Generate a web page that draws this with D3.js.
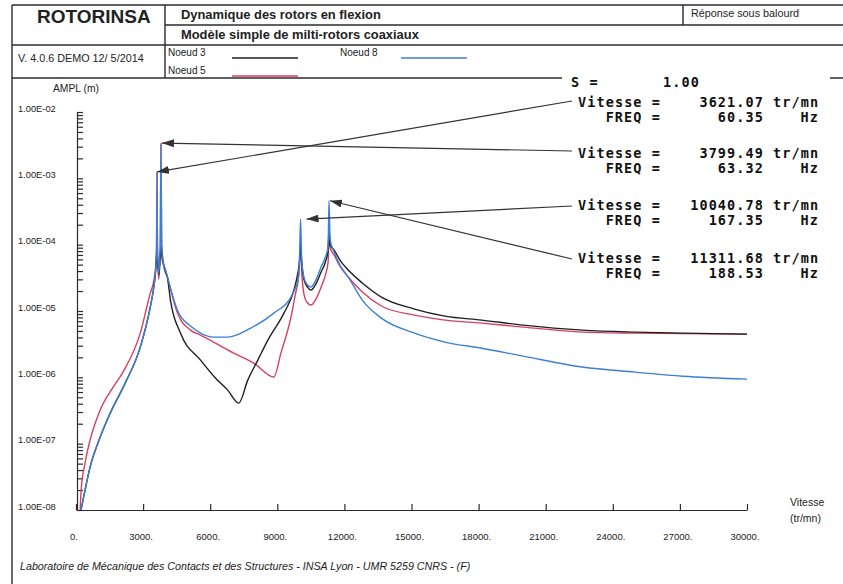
<!DOCTYPE html>
<html>
<head>
<meta charset="utf-8">
<script src="https://cdn.jsdelivr.net/npm/d3@7"></script>
<style>
  html, body { margin: 0; padding: 0; background: #fff; }
  svg { display: block; }
  .sans { font-family: "Liberation Sans", Arial, sans-serif; fill: #222; }
  .mono { font-family: "DejaVu Sans Mono", monospace; font-weight: bold; fill: #111; }
</style>
</head>
<body>
<svg id="chart" width="843" height="584"></svg>
<script>
// Axis ticks and labels
const speedTicks = [0, 3000, 6000, 9000, 12000, 15000, 18000, 21000, 24000, 27000, 30000];
const speedTickLabels = ["0.", "3000.", "6000.", "9000.", "12000.", "15000.", "18000.", "21000.", "24000.", "27000.", "30000."];
const ampDecades = [1e-8, 1e-7, 1e-6, 1e-5, 1e-4, 1e-3, 1e-2];
const ampDecadeLabels = ["1.00E-08", "1.00E-07", "1.00E-06", "1.00E-05", "1.00E-04", "1.00E-03", "1.00E-02"];

// Noeud 3 (black): speed in tr/mn, amplitude in m
const node3Speed = [225, 404, 629, 1078, 1527, 2200, 2874, 3323, 3458, 3560, 3600, 3621.07, 3645, 3700, 3760, 3799.49, 3830, 3900, 4000, 4087, 4222, 4671, 5569, 6242, 6781, 7275, 7680, 8129, 8578, 9296, 9745, 9900, 9990, 10040.78, 10090, 10200, 10350, 10509, 10700, 10958, 11150, 11272, 11311.68, 11350, 11542, 11800, 12171, 12800, 13653, 15134, 16500, 18144, 20000, 22635, 25000, 27126, 30000];
const node3Amp = [1.0e-8, 1.99e-8, 4.42e-8, 1.25e-7, 2.88e-7, 8.18e-7, 2.85e-6, 1.15e-5, 2.07e-5, 4.0e-5, 6.5e-5, 9.0e-5, 6.0e-5, 3.5e-5, 6.0e-5, 9.5e-5, 7.0e-5, 5.2e-5, 3.8e-5, 3.2e-5, 1.46e-5, 4.64e-6, 1.82e-6, 9.72e-7, 6.41e-7, 4.08e-7, 9.08e-7, 1.82e-6, 3.64e-6, 9.30e-6, 2.07e-5, 3.48e-5, 5.5e-5, 1.05e-4, 5.5e-5, 2.92e-5, 2.29e-5, 2.07e-5, 2.46e-5, 3.86e-5, 5.47e-5, 8.3e-5, 1.66e-4, 1.0e-4, 8.3e-5, 5.86e-5, 4.14e-5, 2.64e-5, 1.62e-5, 1.07e-5, 8.38e-6, 7.29e-6, 6.12e-6, 5.15e-6, 4.81e-6, 4.64e-6, 4.48e-6];

// Noeud 5 (red)
const node5Speed = [180, 230, 404, 629, 1078, 1662, 2100, 2874, 3323, 3458, 3560, 3600, 3621.07, 3640, 3700, 3765, 3799.49, 3830, 3900, 4000, 4087, 4536, 5120, 5569, 7051, 7949, 8847, 9162, 9611, 9800, 9970, 10040.78, 10100, 10200, 10350, 10509, 10700, 10958, 11150, 11272, 11311.68, 11360, 11542, 11800, 12171, 12800, 13653, 15134, 16500, 18144, 20000, 22635, 25000, 27126, 30000];
const node5Amp = [9.0e-9, 2.0e-8, 5.08e-8, 1.13e-7, 3.2e-7, 7.11e-7, 1.2e-6, 4.64e-6, 1.86e-5, 2.64e-5, 4.5e-5, 9.0e-5, 1.25e-3, 9.0e-5, 3.0e-5, 9.0e-5, 3.4e-3, 1.0e-4, 5.5e-5, 4.2e-5, 3.25e-5, 9.30e-6, 5.15e-6, 4.33e-6, 2.32e-6, 1.64e-6, 1.01e-6, 2.32e-6, 8.09e-6, 1.74e-5, 3.73e-5, 9.9e-5, 3.5e-5, 1.74e-5, 1.32e-5, 1.23e-5, 1.46e-5, 2.29e-5, 3.48e-5, 5.47e-5, 1.84e-4, 9.0e-5, 6.97e-5, 4.75e-5, 3.25e-5, 1.93e-5, 1.19e-5, 8.67e-6, 7.29e-6, 6.57e-6, 5.72e-6, 4.81e-6, 4.64e-6, 4.56e-6, 4.48e-6];

// Noeud 8 (blue)
const node8Speed = [225, 404, 629, 1078, 1527, 2200, 2874, 3323, 3458, 3560, 3600, 3621.07, 3642, 3700, 3770, 3799.49, 3830, 3900, 4000, 4087, 4222, 4536, 5120, 5569, 6153, 6781, 7814, 8847, 9611, 9800, 9925, 9990, 10040.78, 10090, 10200, 10350, 10509, 10700, 10958, 11150, 11272, 11311.68, 11360, 11542, 11800, 12171, 12800, 13653, 15134, 16500, 18144, 20000, 22635, 25000, 27126, 30000];
const node8Amp = [1.0e-8, 1.99e-8, 4.42e-8, 1.25e-7, 2.88e-7, 8.18e-7, 2.85e-6, 1.15e-5, 2.07e-5, 4.14e-5, 8.0e-5, 1.2e-3, 1.0e-4, 3.7e-5, 1.0e-4, 3.2e-3, 1.0e-4, 5.47e-5, 4.1e-5, 3.25e-5, 2.21e-5, 1.03e-5, 5.92e-6, 4.64e-6, 4.04e-6, 4.04e-6, 5.52e-6, 9.30e-6, 1.62e-5, 2.21e-5, 2.92e-5, 6.0e-5, 2.43e-4, 6.0e-5, 3.13e-5, 2.46e-5, 2.29e-5, 2.82e-5, 4.59e-5, 6.5e-5, 9.2e-5, 4.59e-4, 1.2e-4, 7.73e-5, 4.92e-5, 3.25e-5, 1.46e-5, 7.8e-6, 4.64e-6, 3.40e-6, 2.75e-6, 2.09e-6, 1.43e-6, 1.20e-6, 1.04e-6, 9.4e-7];

// Critical speeds picked on the curves
const criticalSpeeds = [3621.07, 3799.49, 10040.78, 11311.68];
const criticalSpeedText = ["3621.07", "3799.49", "10040.78", "11311.68"];
const criticalFreqText = ["60.35", "63.32", "167.35", "188.53"];
const criticalAmp = [1.25e-3, 3.4e-3, 2.43e-4, 4.59e-4];
const scaleFactorText = "1.00";

const svg = d3.select("#chart");
const ink = "#2b2b2b";

const x = d3.scaleLinear().domain([0, 30000]).range([76, 747]);
const y = d3.scaleLog().domain([1e-8, 1e-2]).range([510, 112]);

// ---- Title block frame ----
const frame = svg.append("g").attr("stroke", ink).attr("stroke-width", 1.4).attr("fill", "none");
[[12, 5, 843, 5], [165, 25, 843, 25], [12, 45, 843, 45], [12, 78, 843, 78],
 [12, 5, 12, 584], [165, 5, 165, 78], [683, 5, 683, 25]].forEach(([x1, y1, x2, y2]) =>
  frame.append("line").attr("x1", x1).attr("y1", y1).attr("x2", x2).attr("y2", y2));

svg.append("text").attr("class", "sans").attr("x", 37).attr("y", 23)
  .attr("font-size", 19).attr("font-weight", "bold").text("ROTORINSA");
svg.append("text").attr("class", "sans").attr("x", 181).attr("y", 19)
  .attr("font-size", 12.9).attr("font-weight", "bold").text("Dynamique des rotors en flexion");
svg.append("text").attr("class", "sans").attr("x", 181).attr("y", 39)
  .attr("font-size", 12.9).attr("font-weight", "bold").text("Modèle simple de milti-rotors coaxiaux");
svg.append("text").attr("class", "sans").attr("x", 691).attr("y", 17)
  .attr("font-size", 10.8).text("Réponse sous balourd");
svg.append("text").attr("class", "sans").attr("x", 18).attr("y", 62)
  .attr("font-size", 10.8).text("V. 4.0.6  DEMO 12/ 5/2014");

// Legend
const legendItems = [
  { label: "Noeud", num: "3", color: "#1f1f1f", lx: 168, ly: 56, sx: 232 },
  { label: "Noeud", num: "8", color: "#3d7fd6", lx: 340, ly: 56, sx: 401 },
  { label: "Noeud", num: "5", color: "#d6405e", lx: 168, ly: 74, sx: 232 }
];
legendItems.forEach(d => {
  svg.append("text").attr("class", "sans").attr("x", d.lx).attr("y", d.ly)
    .attr("font-size", 10).text(d.label);
  svg.append("text").attr("class", "sans").attr("x", d.lx + 32).attr("y", d.ly)
    .attr("font-size", 10).text(d.num);
  svg.append("line").attr("x1", d.sx).attr("x2", d.sx + 66)
    .attr("y1", d.ly + 2).attr("y2", d.ly + 2)
    .attr("stroke", d.color).attr("stroke-width", 1.3);
});

// ---- Axes ----
svg.append("text").attr("class", "sans").attr("x", 53).attr("y", 92)
  .attr("font-size", 10.3).text("AMPL (m)");

const yAxis = d3.axisRight(y).tickSize(6).tickSizeOuter(0).tickFormat("");
const gy = svg.append("g").attr("transform", "translate(77,0)").call(yAxis);
gy.selectAll("path, line").attr("stroke", ink).attr("stroke-width", 1.2);

svg.append("g").selectAll("text").data(ampDecades).join("text")
  .attr("class", "sans").attr("x", 18).attr("y", d => y(d) - 0.5)
  .attr("font-size", 9.3).text((d, i) => ampDecadeLabels[i]);

const xAxis = d3.axisTop(x).tickValues(speedTicks).tickSize(6).tickSizeOuter(0).tickFormat("");
const gx = svg.append("g").attr("transform", "translate(0,510)").call(xAxis);
gx.selectAll("path, line").attr("stroke", ink).attr("stroke-width", 1.2);

svg.append("g").selectAll("text").data(speedTicks).join("text")
  .attr("class", "sans").attr("x", d => x(d) - 2).attr("y", 540)
  .attr("text-anchor", "middle").attr("font-size", 9.5)
  .text((d, i) => speedTickLabels[i]);

svg.append("text").attr("class", "sans").attr("x", 790).attr("y", 506)
  .attr("font-size", 10.5).text("Vitesse");
svg.append("text").attr("class", "sans").attr("x", 790).attr("y", 522)
  .attr("font-size", 10.5).text("(tr/mn)");

svg.append("text").attr("class", "sans").attr("x", 20).attr("y", 570)
  .attr("font-size", 10.7).attr("font-style", "italic")
  .text("Laboratoire de Mécanique des Contacts et des Structures - INSA Lyon - UMR 5259 CNRS - (F)");

// ---- Response curves ----
svg.append("clipPath").attr("id", "plotClip").append("rect")
  .attr("x", 76).attr("y", 100).attr("width", 672).attr("height", 410);

const line = d3.line().x(d => x(d[0])).y(d => y(d[1])).curve(d3.curveMonotoneX);
const series = [
  { speed: node5Speed, amp: node5Amp, color: "#d6405e" },
  { speed: node3Speed, amp: node3Amp, color: "#1f1f1f" },
  { speed: node8Speed, amp: node8Amp, color: "#3d7fd6" }
];
const curves = svg.append("g").attr("clip-path", "url(#plotClip)");
series.forEach(s => {
  curves.append("path")
    .datum(s.speed.map((v, i) => [v, s.amp[i]]))
    .attr("fill", "none").attr("stroke", s.color).attr("stroke-width", 1.4)
    .attr("stroke-linejoin", "round").attr("d", line);
});

// ---- Critical speed read-out ----
svg.append("rect").attr("x", 562).attr("y", 70).attr("width", 268).attr("height", 214).attr("fill", "#fff");

const readout = svg.append("g").attr("class", "mono")
  .attr("font-size", 13.5).attr("letter-spacing", 1.1);
readout.append("text").attr("x", 571).attr("y", 87).text("S =");
readout.append("text").attr("x", 663).attr("y", 87).text(scaleFactorText);

const rowBase = [107, 158, 210, 263];
criticalSpeeds.forEach((v, i) => {
  const b = rowBase[i];
  readout.append("text").attr("x", 578).attr("y", b).text("Vitesse =");
  readout.append("text").attr("x", 764).attr("y", b).attr("text-anchor", "end").text(criticalSpeedText[i]);
  readout.append("text").attr("x", 773).attr("y", b).text("tr/mn");
  readout.append("text").attr("x", 661).attr("y", b + 15).attr("text-anchor", "end").text("FREQ =");
  readout.append("text").attr("x", 764).attr("y", b + 15).attr("text-anchor", "end").text(criticalFreqText[i]);
  readout.append("text").attr("x", 819).attr("y", b + 15).attr("text-anchor", "end").text("Hz");
});

// Arrows from each read-out to its peak
const defs = svg.append("defs");
defs.append("marker").attr("id", "head").attr("viewBox", "0 0 12 8")
  .attr("refX", 12).attr("refY", 4).attr("markerWidth", 12).attr("markerHeight", 8)
  .attr("markerUnits", "userSpaceOnUse").attr("orient", "auto")
  .append("path").attr("d", "M0,0 L12,4 L0,8 Z").attr("fill", "#333");

const arrowStartY = [101, 151, 206, 259];
const tipGap = [0, 1, 6, 1];
criticalSpeeds.forEach((v, i) => {
  svg.append("line")
    .attr("x1", 572).attr("y1", arrowStartY[i])
    .attr("x2", x(v) + tipGap[i]).attr("y2", y(criticalAmp[i]))
    .attr("stroke", "#333").attr("stroke-width", 1.2)
    .attr("marker-end", "url(#head)");
});
</script>
</body>
</html>
